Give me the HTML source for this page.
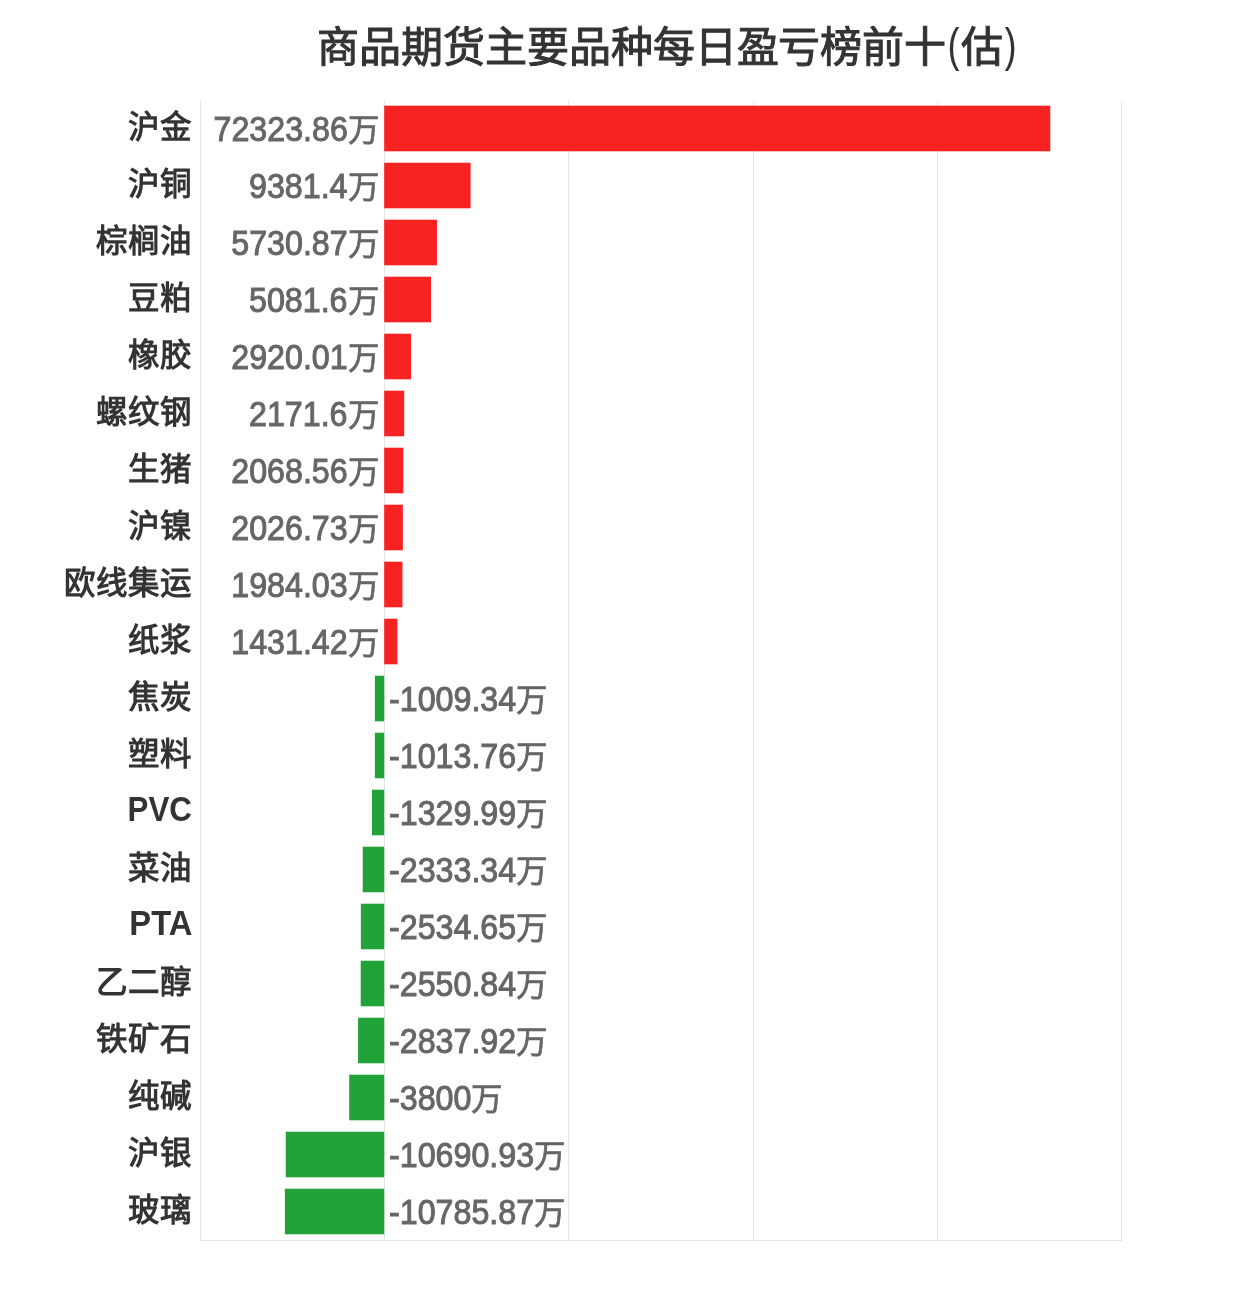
<!DOCTYPE html>
<html lang="zh-CN"><head><meta charset="utf-8"><style>
html,body{margin:0;padding:0;background:#fff;}
body{width:1246px;height:1300px;position:relative;overflow:hidden;font-family:"Liberation Sans",sans-serif;}
svg{position:absolute;left:0;top:0;}
.title{position:absolute;left:317px;top:16px;font-size:42px;line-height:60px;color:#333;white-space:nowrap;letter-spacing:-0.05px;-webkit-text-stroke:1.0px #333;}
.cat{position:absolute;right:1054px;font-size:31.5px;line-height:57.00px;height:57.00px;font-weight:bold;color:#333;white-space:nowrap;-webkit-text-stroke:0px #333;}
.lat{font-size:34.5px;transform:scaleX(0.907);transform-origin:100% 50%;-webkit-text-stroke:0px #333;margin-top:-1.5px}
.num{position:absolute;font-size:34.5px;line-height:57.00px;height:57.00px;color:#666;white-space:nowrap;transform:scaleX(0.934);-webkit-text-stroke:1.0px #666;}
.wan{position:absolute;font-size:31.5px;line-height:57.00px;height:57.00px;color:#666;white-space:nowrap;-webkit-text-stroke:0.7px #666;}
.p{display:inline-block;font-size:46px;transform:translateY(-0.9px) scaleX(0.76);-webkit-text-stroke:0.2px #333;margin:0 -0.3px;}
.txt{position:absolute;left:0;top:0;width:1246px;height:1300px;will-change:transform;}
</style></head><body>
<svg width="1246" height="1300" viewBox="0 0 1246 1300">
<rect x="200" y="100" width="1" height="1140" fill="#e6e6e6"/>
<rect x="384" y="100" width="1" height="1140" fill="#e6e6e6"/>
<rect x="568" y="100" width="1" height="1140" fill="#e6e6e6"/>
<rect x="753" y="100" width="1" height="1140" fill="#e6e6e6"/>
<rect x="937" y="100" width="1" height="1140" fill="#e6e6e6"/>
<rect x="1121" y="100" width="1" height="1140" fill="#e6e6e6"/>
<rect x="200" y="1240" width="922" height="1" fill="#e6e6e6"/>
<rect x="384.20" y="105.70" width="666.10" height="45.60" fill="#f72323"/>
<rect x="384.20" y="162.70" width="86.40" height="45.60" fill="#f72323"/>
<rect x="384.20" y="219.70" width="52.78" height="45.60" fill="#f72323"/>
<rect x="384.20" y="276.70" width="46.80" height="45.60" fill="#f72323"/>
<rect x="384.20" y="333.70" width="26.89" height="45.60" fill="#f72323"/>
<rect x="384.20" y="390.70" width="20.00" height="45.60" fill="#f72323"/>
<rect x="384.20" y="447.70" width="19.05" height="45.60" fill="#f72323"/>
<rect x="384.20" y="504.70" width="18.67" height="45.60" fill="#f72323"/>
<rect x="384.20" y="561.70" width="18.27" height="45.60" fill="#f72323"/>
<rect x="384.20" y="618.70" width="13.18" height="45.60" fill="#f72323"/>
<rect x="374.90" y="675.70" width="9.30" height="45.60" fill="#21a33a"/>
<rect x="374.86" y="732.70" width="9.34" height="45.60" fill="#21a33a"/>
<rect x="371.95" y="789.70" width="12.25" height="45.60" fill="#21a33a"/>
<rect x="362.71" y="846.70" width="21.49" height="45.60" fill="#21a33a"/>
<rect x="360.86" y="903.70" width="23.34" height="45.60" fill="#21a33a"/>
<rect x="360.71" y="960.70" width="23.49" height="45.60" fill="#21a33a"/>
<rect x="358.06" y="1017.70" width="26.14" height="45.60" fill="#21a33a"/>
<rect x="349.20" y="1074.70" width="35.00" height="45.60" fill="#21a33a"/>
<rect x="285.74" y="1131.70" width="98.46" height="45.60" fill="#21a33a"/>
<rect x="284.86" y="1188.70" width="99.34" height="45.60" fill="#21a33a"/>
</svg>
<div class="txt">
<div class="title">商品期货主要品种每日盈亏榜前十<span class="p">(</span>估<span class="p">)</span></div>
<div class="cat" style="top:98.50px">沪金</div>
<div class="num" style="top:101.10px;left:203.70px;transform-origin:143.90px 50%">72323.86</div>
<div class="wan" style="top:101.60px;left:347.80px">万</div>
<div class="cat" style="top:155.50px">沪铜</div>
<div class="num" style="top:158.10px;left:242.08px;transform-origin:105.52px 50%">9381.4</div>
<div class="wan" style="top:158.60px;left:347.80px">万</div>
<div class="cat" style="top:212.50px">棕榈油</div>
<div class="num" style="top:215.10px;left:222.89px;transform-origin:124.71px 50%">5730.87</div>
<div class="wan" style="top:215.60px;left:347.80px">万</div>
<div class="cat" style="top:269.50px">豆粕</div>
<div class="num" style="top:272.10px;left:242.08px;transform-origin:105.52px 50%">5081.6</div>
<div class="wan" style="top:272.60px;left:347.80px">万</div>
<div class="cat" style="top:326.50px">橡胶</div>
<div class="num" style="top:329.10px;left:222.89px;transform-origin:124.71px 50%">2920.01</div>
<div class="wan" style="top:329.60px;left:347.80px">万</div>
<div class="cat" style="top:383.50px">螺纹钢</div>
<div class="num" style="top:386.10px;left:242.08px;transform-origin:105.52px 50%">2171.6</div>
<div class="wan" style="top:386.60px;left:347.80px">万</div>
<div class="cat" style="top:440.50px">生猪</div>
<div class="num" style="top:443.10px;left:222.89px;transform-origin:124.71px 50%">2068.56</div>
<div class="wan" style="top:443.60px;left:347.80px">万</div>
<div class="cat" style="top:497.50px">沪镍</div>
<div class="num" style="top:500.10px;left:222.89px;transform-origin:124.71px 50%">2026.73</div>
<div class="wan" style="top:500.60px;left:347.80px">万</div>
<div class="cat" style="top:554.50px">欧线集运</div>
<div class="num" style="top:557.10px;left:222.89px;transform-origin:124.71px 50%">1984.03</div>
<div class="wan" style="top:557.60px;left:347.80px">万</div>
<div class="cat" style="top:611.50px">纸浆</div>
<div class="num" style="top:614.10px;left:222.89px;transform-origin:124.71px 50%">1431.42</div>
<div class="wan" style="top:614.60px;left:347.80px">万</div>
<div class="cat" style="top:668.50px">焦炭</div>
<div class="num" style="top:671.10px;left:389.00px;transform-origin:0 50%">-1009.34</div>
<div class="wan" style="top:671.60px;left:516.11px">万</div>
<div class="cat" style="top:725.50px">塑料</div>
<div class="num" style="top:728.10px;left:389.00px;transform-origin:0 50%">-1013.76</div>
<div class="wan" style="top:728.60px;left:516.11px">万</div>
<div class="cat lat" style="top:782.50px">PVC</div>
<div class="num" style="top:785.10px;left:389.00px;transform-origin:0 50%">-1329.99</div>
<div class="wan" style="top:785.60px;left:516.11px">万</div>
<div class="cat" style="top:839.50px">菜油</div>
<div class="num" style="top:842.10px;left:389.00px;transform-origin:0 50%">-2333.34</div>
<div class="wan" style="top:842.60px;left:516.11px">万</div>
<div class="cat lat" style="top:896.50px;transform:scaleX(0.95)">PTA</div>
<div class="num" style="top:899.10px;left:389.00px;transform-origin:0 50%">-2534.65</div>
<div class="wan" style="top:899.60px;left:516.11px">万</div>
<div class="cat" style="top:953.50px">乙二醇</div>
<div class="num" style="top:956.10px;left:389.00px;transform-origin:0 50%">-2550.84</div>
<div class="wan" style="top:956.60px;left:516.11px">万</div>
<div class="cat" style="top:1010.50px">铁矿石</div>
<div class="num" style="top:1013.10px;left:389.00px;transform-origin:0 50%">-2837.92</div>
<div class="wan" style="top:1013.60px;left:516.11px">万</div>
<div class="cat" style="top:1067.50px">纯碱</div>
<div class="num" style="top:1070.10px;left:389.00px;transform-origin:0 50%">-3800</div>
<div class="wan" style="top:1070.60px;left:471.31px">万</div>
<div class="cat" style="top:1124.50px">沪银</div>
<div class="num" style="top:1127.10px;left:389.00px;transform-origin:0 50%">-10690.93</div>
<div class="wan" style="top:1127.60px;left:534.03px">万</div>
<div class="cat" style="top:1181.50px">玻璃</div>
<div class="num" style="top:1184.10px;left:389.00px;transform-origin:0 50%">-10785.87</div>
<div class="wan" style="top:1184.60px;left:534.03px">万</div>
</div>
</body></html>
